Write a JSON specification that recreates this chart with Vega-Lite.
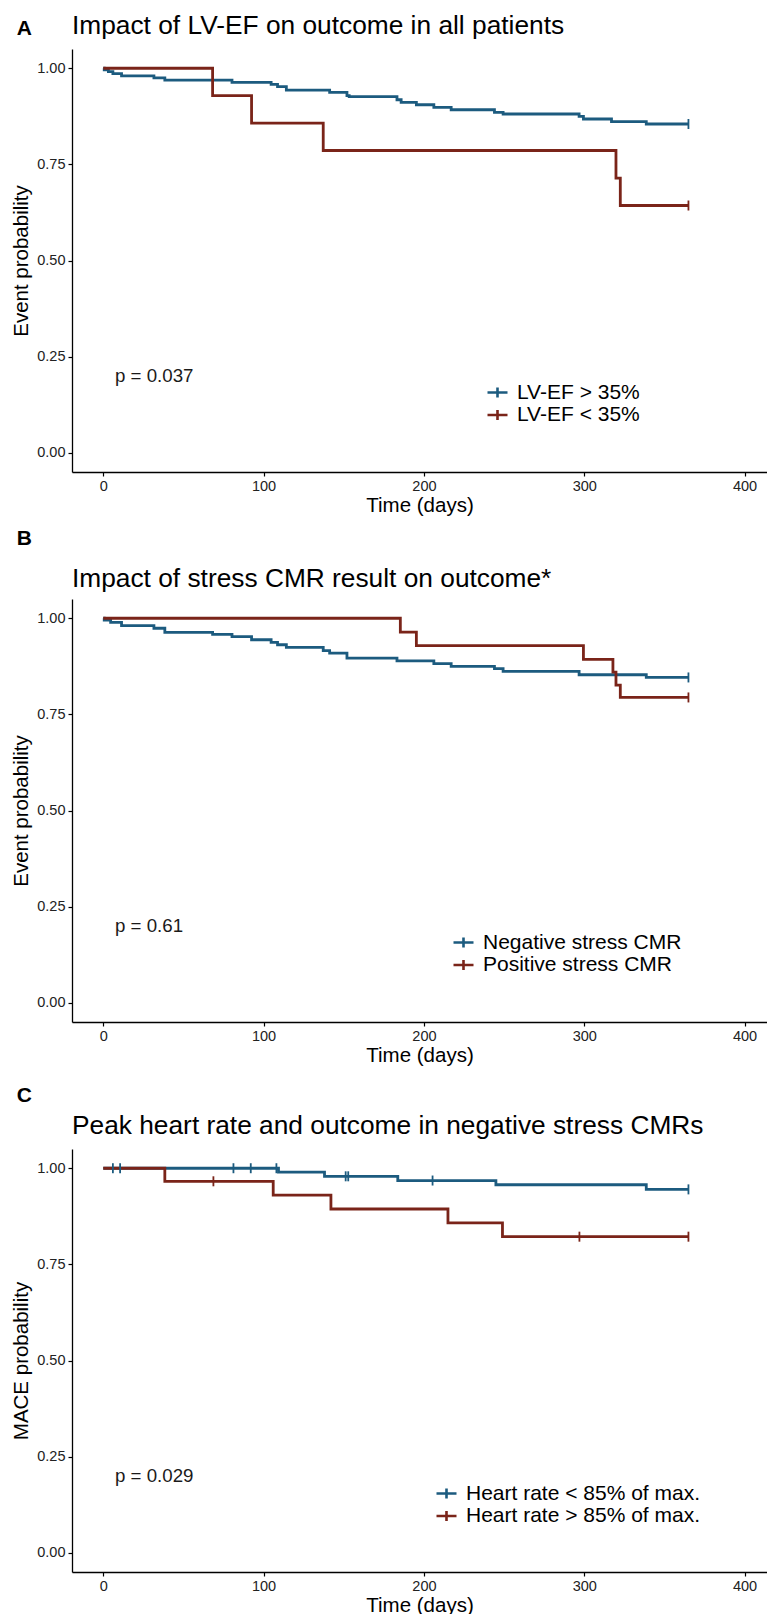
{
  "$schema": "https://vega.github.io/schema/vega-lite/v6.json",
  "background": "white",
  "padding": {"left": 11, "top": 13, "right": 0, "bottom": 0},
  "config": {
    "font": "Liberation Sans",
    "view": {"stroke": null},
    "axis": {"domainColor": "black", "domainWidth": 1.3, "tickColor": "black", "tickWidth": 1.2, "tickSize": 4, "labelFont": "Liberation Sans", "labelFontSize": 14.5, "labelColor": "#222222", "labelPadding": 3, "titleFont": "Liberation Sans", "titleFontSize": 20.5, "titleFontWeight": "normal", "titleColor": "black", "grid": false},
    "title": {"anchor": "start", "frame": "group", "fontSize": 26.3, "fontWeight": "normal", "font": "Liberation Sans", "color": "black"},
    "legend": {"orient": "none", "title": null, "labelFont": "Liberation Sans", "labelFontSize": 21, "labelColor": "black", "labelLimit": 0, "symbolType": "M-1,0H1M0,-0.5V0.5", "symbolSize": 400, "symbolStrokeWidth": 2.6, "symbolOpacity": 1, "rowPadding": 0.5, "labelOffset": 8, "padding": 0}
  },
  "datasets": {
    "curves": [
      {"panel":"A","group":"LV-EF > 35%","t":0,"s":1},{"panel":"A","group":"LV-EF > 35%","t":0.6,"s":0.996},{"panel":"A","group":"LV-EF > 35%","t":3.2,"s":0.991},{"panel":"A","group":"LV-EF > 35%","t":6,"s":0.986},{"panel":"A","group":"LV-EF > 35%","t":11.4,"s":0.98},{"panel":"A","group":"LV-EF > 35%","t":31.6,"s":0.975},{"panel":"A","group":"LV-EF > 35%","t":38.4,"s":0.969},{"panel":"A","group":"LV-EF > 35%","t":80.3,"s":0.963},{"panel":"A","group":"LV-EF > 35%","t":104.7,"s":0.958},{"panel":"A","group":"LV-EF > 35%","t":108.7,"s":0.952},{"panel":"A","group":"LV-EF > 35%","t":114.2,"s":0.943},{"panel":"A","group":"LV-EF > 35%","t":141.2,"s":0.937},{"panel":"A","group":"LV-EF > 35%","t":152,"s":0.929},{"panel":"A","group":"LV-EF > 35%","t":153.4,"s":0.926},{"panel":"A","group":"LV-EF > 35%","t":183.2,"s":0.918},{"panel":"A","group":"LV-EF > 35%","t":185.8,"s":0.911},{"panel":"A","group":"LV-EF > 35%","t":195.3,"s":0.905},{"panel":"A","group":"LV-EF > 35%","t":206.2,"s":0.898},{"panel":"A","group":"LV-EF > 35%","t":217,"s":0.892},{"panel":"A","group":"LV-EF > 35%","t":244,"s":0.885},{"panel":"A","group":"LV-EF > 35%","t":249.4,"s":0.881},{"panel":"A","group":"LV-EF > 35%","t":296.8,"s":0.875},{"panel":"A","group":"LV-EF > 35%","t":299.5,"s":0.868},{"panel":"A","group":"LV-EF > 35%","t":317,"s":0.861},{"panel":"A","group":"LV-EF > 35%","t":338.7,"s":0.855},{"panel":"A","group":"LV-EF > 35%","t":365,"s":0.855},
      {"panel":"A","group":"LV-EF < 35%","t":0,"s":1},{"panel":"A","group":"LV-EF < 35%","t":68.2,"s":0.929},{"panel":"A","group":"LV-EF < 35%","t":92.5,"s":0.857},{"panel":"A","group":"LV-EF < 35%","t":137.2,"s":0.786},{"panel":"A","group":"LV-EF < 35%","t":319.8,"s":0.714},{"panel":"A","group":"LV-EF < 35%","t":322.5,"s":0.643},{"panel":"A","group":"LV-EF < 35%","t":365,"s":0.643},
      {"panel":"B","group":"Negative stress CMR","t":0,"s":1},{"panel":"B","group":"Negative stress CMR","t":0.6,"s":0.995},{"panel":"B","group":"Negative stress CMR","t":4.6,"s":0.989},{"panel":"B","group":"Negative stress CMR","t":11.4,"s":0.981},{"panel":"B","group":"Negative stress CMR","t":31.6,"s":0.974},{"panel":"B","group":"Negative stress CMR","t":38.4,"s":0.963},{"panel":"B","group":"Negative stress CMR","t":68.2,"s":0.958},{"panel":"B","group":"Negative stress CMR","t":80.3,"s":0.952},{"panel":"B","group":"Negative stress CMR","t":92.5,"s":0.944},{"panel":"B","group":"Negative stress CMR","t":104.7,"s":0.937},{"panel":"B","group":"Negative stress CMR","t":108.7,"s":0.931},{"panel":"B","group":"Negative stress CMR","t":114.2,"s":0.924},{"panel":"B","group":"Negative stress CMR","t":137.2,"s":0.916},{"panel":"B","group":"Negative stress CMR","t":141.2,"s":0.909},{"panel":"B","group":"Negative stress CMR","t":152,"s":0.896},{"panel":"B","group":"Negative stress CMR","t":183.2,"s":0.889},{"panel":"B","group":"Negative stress CMR","t":206.2,"s":0.882},{"panel":"B","group":"Negative stress CMR","t":217,"s":0.875},{"panel":"B","group":"Negative stress CMR","t":244,"s":0.869},{"panel":"B","group":"Negative stress CMR","t":249.4,"s":0.862},{"panel":"B","group":"Negative stress CMR","t":296.8,"s":0.853},{"panel":"B","group":"Negative stress CMR","t":338.7,"s":0.846},{"panel":"B","group":"Negative stress CMR","t":365,"s":0.846},
      {"panel":"B","group":"Positive stress CMR","t":0,"s":1},{"panel":"B","group":"Positive stress CMR","t":185.3,"s":0.964},{"panel":"B","group":"Positive stress CMR","t":195.3,"s":0.929},{"panel":"B","group":"Positive stress CMR","t":299.5,"s":0.893},{"panel":"B","group":"Positive stress CMR","t":317.9,"s":0.86},{"panel":"B","group":"Positive stress CMR","t":319.8,"s":0.826},{"panel":"B","group":"Positive stress CMR","t":322.5,"s":0.794},{"panel":"B","group":"Positive stress CMR","t":365,"s":0.794},
      {"panel":"C","group":"Heart rate < 85% of max.","t":0,"s":1},{"panel":"C","group":"Heart rate < 85% of max.","t":109.3,"s":0.99},{"panel":"C","group":"Heart rate < 85% of max.","t":138,"s":0.979},{"panel":"C","group":"Heart rate < 85% of max.","t":183.7,"s":0.968},{"panel":"C","group":"Heart rate < 85% of max.","t":244.9,"s":0.957},{"panel":"C","group":"Heart rate < 85% of max.","t":338.7,"s":0.945},{"panel":"C","group":"Heart rate < 85% of max.","t":365,"s":0.945},
      {"panel":"C","group":"Heart rate > 85% of max.","t":0,"s":1},{"panel":"C","group":"Heart rate > 85% of max.","t":38.4,"s":0.966},{"panel":"C","group":"Heart rate > 85% of max.","t":106,"s":0.93},{"panel":"C","group":"Heart rate > 85% of max.","t":142,"s":0.894},{"panel":"C","group":"Heart rate > 85% of max.","t":215,"s":0.858},{"panel":"C","group":"Heart rate > 85% of max.","t":249,"s":0.822},{"panel":"C","group":"Heart rate > 85% of max.","t":365,"s":0.822}
    ],
    "censor": [
      {"panel":"A","group":"LV-EF > 35%","t":365,"s":0.855},{"panel":"A","group":"LV-EF < 35%","t":365,"s":0.643},
      {"panel":"B","group":"Negative stress CMR","t":365,"s":0.846},{"panel":"B","group":"Positive stress CMR","t":365,"s":0.794},
      {"panel":"C","group":"Heart rate < 85% of max.","t":6,"s":1},{"panel":"C","group":"Heart rate < 85% of max.","t":10.5,"s":1},{"panel":"C","group":"Heart rate < 85% of max.","t":81.2,"s":1},{"panel":"C","group":"Heart rate < 85% of max.","t":92,"s":1},{"panel":"C","group":"Heart rate < 85% of max.","t":108,"s":1},{"panel":"C","group":"Heart rate < 85% of max.","t":151.2,"s":0.979},{"panel":"C","group":"Heart rate < 85% of max.","t":152.8,"s":0.979},{"panel":"C","group":"Heart rate < 85% of max.","t":205.4,"s":0.968},{"panel":"C","group":"Heart rate < 85% of max.","t":365,"s":0.945},
      {"panel":"C","group":"Heart rate > 85% of max.","t":68.7,"s":0.966},{"panel":"C","group":"Heart rate > 85% of max.","t":297,"s":0.822},{"panel":"C","group":"Heart rate > 85% of max.","t":365,"s":0.822}
    ],
    "notes": [
      {"panel":"A","kind":"p","label":"p = 0.037","t":7.3,"s":0.2},
      {"panel":"B","kind":"p","label":"p = 0.61","t":7.3,"s":0.2},
      {"panel":"C","kind":"p","label":"p = 0.029","t":7.3,"s":0.2},
      {"panel":"A","kind":"letter","label":"A","t":-54,"s":1.101},
      {"panel":"B","kind":"letter","label":"B","t":-54,"s":1.205},
      {"panel":"C","kind":"letter","label":"C","t":-54,"s":1.187}
    ]
  },
  "bounds": "flush",
  "spacing": 127,
  "resolve": {"scale": {"color": "independent", "x": "independent", "y": "independent"}},
  "vconcat": [
    {
      "width": 695, "height": 423,
      "title": {"text": "Impact of LV-EF on outcome in all patients", "offset": -21.4},
      "layer": [
        {"data": {"name": "curves"}, "transform": [{"filter": "datum.panel === 'A'"}],
         "mark": {"type": "line", "interpolate": "step-after", "strokeWidth": 2.8},
         "encoding": {
           "x": {"field": "t", "type": "quantitative", "scale": {"domain": [-19.5, 414], "nice": false, "zero": false}, "axis": {"values": [0,100,200,300,400], "format": "d", "title": "Time (days)", "titlePadding": 3}},
           "y": {"field": "s", "type": "quantitative", "scale": {"domain": [-0.05, 1.05], "nice": false, "zero": false}, "axis": {"values": [0,0.25,0.5,0.75,1], "format": ".2f", "title": "Event probability", "titlePadding": 5}},
           "color": {"field": "group", "type": "nominal", "scale": {"domain": ["LV-EF > 35%", "LV-EF < 35%"], "range": ["#1c5b7f", "#7a2419"]}, "legend": {"legendX": 414, "legendY": 332}}
         }},
        {"data": {"name": "censor"}, "transform": [{"filter": "datum.panel === 'A'"}],
         "mark": {"type": "tick", "orient": "vertical", "size": 10, "thickness": 1.8, "opacity": 1},
         "encoding": {"x": {"field": "t", "type": "quantitative"}, "y": {"field": "s", "type": "quantitative"}, "color": {"field": "group", "type": "nominal"}}},
        {"data": {"name": "notes"}, "transform": [{"filter": "datum.panel === 'A' && datum.kind === 'p'"}],
         "mark": {"type": "text", "align": "left", "baseline": "middle", "fontSize": 18.7, "color": "#1a1a1a"},
         "encoding": {"x": {"field": "t", "type": "quantitative"}, "y": {"field": "s", "type": "quantitative"}, "text": {"field": "label"}}},
        {"data": {"name": "notes"}, "transform": [{"filter": "datum.panel === 'A' && datum.kind === 'letter'"}],
         "mark": {"type": "text", "align": "left", "baseline": "middle", "fontSize": 21, "fontWeight": "bold", "color": "black"},
         "encoding": {"x": {"field": "t", "type": "quantitative"}, "y": {"field": "s", "type": "quantitative"}, "text": {"field": "label"}}}
      ]
    },
    {
      "width": 695, "height": 423,
      "title": {"text": "Impact of stress CMR result on outcome*", "offset": -63.5},
      "layer": [
        {"data": {"name": "curves"}, "transform": [{"filter": "datum.panel === 'B'"}],
         "mark": {"type": "line", "interpolate": "step-after", "strokeWidth": 2.8},
         "encoding": {
           "x": {"field": "t", "type": "quantitative", "scale": {"domain": [-19.5, 414], "nice": false, "zero": false}, "axis": {"values": [0,100,200,300,400], "format": "d", "title": "Time (days)", "titlePadding": 3}},
           "y": {"field": "s", "type": "quantitative", "scale": {"domain": [-0.05, 1.05], "nice": false, "zero": false}, "axis": {"values": [0,0.25,0.5,0.75,1], "format": ".2f", "title": "Event probability", "titlePadding": 5}},
           "color": {"field": "group", "type": "nominal", "scale": {"domain": ["Negative stress CMR", "Positive stress CMR"], "range": ["#1c5b7f", "#7a2419"]}, "legend": {"legendX": 380, "legendY": 332}}
         }},
        {"data": {"name": "censor"}, "transform": [{"filter": "datum.panel === 'B'"}],
         "mark": {"type": "tick", "orient": "vertical", "size": 10, "thickness": 1.8, "opacity": 1},
         "encoding": {"x": {"field": "t", "type": "quantitative"}, "y": {"field": "s", "type": "quantitative"}, "color": {"field": "group", "type": "nominal"}}},
        {"data": {"name": "notes"}, "transform": [{"filter": "datum.panel === 'B' && datum.kind === 'p'"}],
         "mark": {"type": "text", "align": "left", "baseline": "middle", "fontSize": 18.7, "color": "#1a1a1a"},
         "encoding": {"x": {"field": "t", "type": "quantitative"}, "y": {"field": "s", "type": "quantitative"}, "text": {"field": "label"}}},
        {"data": {"name": "notes"}, "transform": [{"filter": "datum.panel === 'B' && datum.kind === 'letter'"}],
         "mark": {"type": "text", "align": "left", "baseline": "middle", "fontSize": 21, "fontWeight": "bold", "color": "black"},
         "encoding": {"x": {"field": "t", "type": "quantitative"}, "y": {"field": "s", "type": "quantitative"}, "text": {"field": "label"}}}
      ]
    },
    {
      "width": 695, "height": 423,
      "title": {"text": "Peak heart rate and outcome in negative stress CMRs", "offset": -53.5},
      "layer": [
        {"data": {"name": "curves"}, "transform": [{"filter": "datum.panel === 'C'"}],
         "mark": {"type": "line", "interpolate": "step-after", "strokeWidth": 2.8},
         "encoding": {
           "x": {"field": "t", "type": "quantitative", "scale": {"domain": [-19.5, 414], "nice": false, "zero": false}, "axis": {"values": [0,100,200,300,400], "format": "d", "title": "Time (days)", "titlePadding": 3}},
           "y": {"field": "s", "type": "quantitative", "scale": {"domain": [-0.05, 1.05], "nice": false, "zero": false}, "axis": {"values": [0,0.25,0.5,0.75,1], "format": ".2f", "title": "MACE probability", "titlePadding": 5}},
           "color": {"field": "group", "type": "nominal", "scale": {"domain": ["Heart rate < 85% of max.", "Heart rate > 85% of max."], "range": ["#1c5b7f", "#7a2419"]}, "legend": {"legendX": 363, "legendY": 333}}
         }},
        {"data": {"name": "censor"}, "transform": [{"filter": "datum.panel === 'C'"}],
         "mark": {"type": "tick", "orient": "vertical", "size": 10, "thickness": 1.8, "opacity": 1},
         "encoding": {"x": {"field": "t", "type": "quantitative"}, "y": {"field": "s", "type": "quantitative"}, "color": {"field": "group", "type": "nominal"}}},
        {"data": {"name": "notes"}, "transform": [{"filter": "datum.panel === 'C' && datum.kind === 'p'"}],
         "mark": {"type": "text", "align": "left", "baseline": "middle", "fontSize": 18.7, "color": "#1a1a1a"},
         "encoding": {"x": {"field": "t", "type": "quantitative"}, "y": {"field": "s", "type": "quantitative"}, "text": {"field": "label"}}},
        {"data": {"name": "notes"}, "transform": [{"filter": "datum.panel === 'C' && datum.kind === 'letter'"}],
         "mark": {"type": "text", "align": "left", "baseline": "middle", "fontSize": 21, "fontWeight": "bold", "color": "black"},
         "encoding": {"x": {"field": "t", "type": "quantitative"}, "y": {"field": "s", "type": "quantitative"}, "text": {"field": "label"}}}
      ]
    }
  ]
}
